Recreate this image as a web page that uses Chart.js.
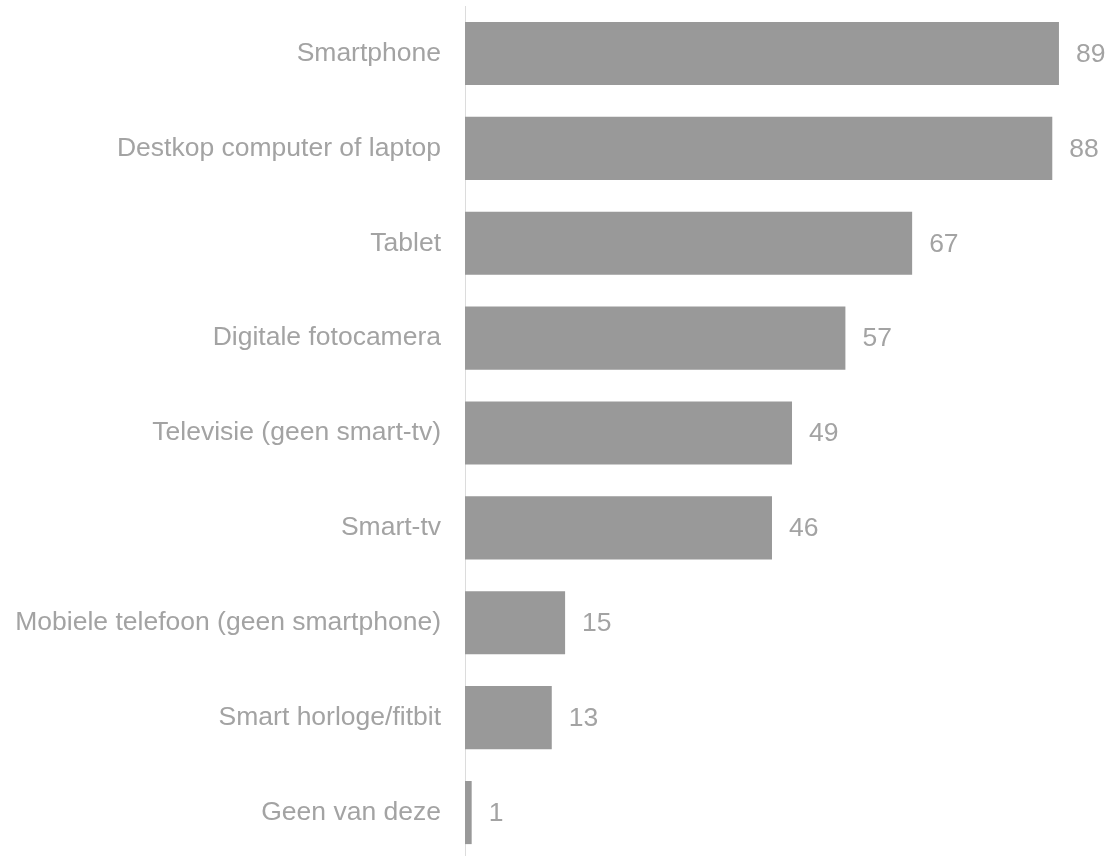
<!DOCTYPE html>
<html>
<head>
<meta charset="utf-8">
<script src="https://cdn.jsdelivr.net/npm/chart.js@4"></script>
<style>
  html, body { margin: 0; padding: 0; background: #fff; overflow: hidden; }
  #wrap { width: 1117px; height: 862px; position: relative; }
</style>
</head>
<body>
<div id="wrap"><canvas id="chart"></canvas></div>
<script>
// Apparaten (percentages)
const categories = [
    'Smartphone',
    'Destkop computer of laptop',
    'Tablet',
    'Digitale fotocamera',
    'Televisie (geen smart-tv)',
    'Smart-tv',
    'Mobiele telefoon (geen smartphone)',
    'Smart horloge/fitbit',
    'Geen van deze'
];
const values = [89, 88, 67, 57, 49, 46, 15, 13, 1];

const barColor = '#999999';
const textColor = '#a3a3a3';
const labelFont = '26.5px "Liberation Sans", Arial, sans-serif';

// value next to the end of each bar
const valueLabels = {
    id: 'valueLabels',
    afterDatasetsDraw: function(chart) {
        const ctx = chart.ctx;
        const meta = chart.getDatasetMeta(0);
        ctx.save();
        ctx.font = labelFont;
        ctx.fillStyle = textColor;
        ctx.textAlign = 'left';
        ctx.textBaseline = 'middle';
        meta.data.forEach((bar, i) => {
            ctx.fillText(String(values[i]), bar.x + 17, bar.y + 1);
        });
        ctx.restore();
    }
};

new Chart(document.getElementById('chart'), {
    type: 'bar',
    data: {
        labels: categories,
        datasets: [{
            data: values,
            backgroundColor: barColor,
            borderWidth: 0,
            barPercentage: 0.665,
            categoryPercentage: 1
        }]
    },
    options: {
        indexAxis: 'y',
        responsive: true,
        maintainAspectRatio: false,
        animation: false,
        layout: { padding: { top: 6, bottom: 2, left: 0, right: 18 } },
        scales: {
            x: { display: false, min: 0, max: 95 },
            y: {
                afterFit: (scale) => {
                    // fixed label column, no extra space above/below the bars
                    scale.width = 465;
                    scale.paddingTop = 0;
                    scale.paddingBottom = 0;
                },
                grid: { drawOnChartArea: false, drawTicks: false },
                border: { display: true, color: '#dcdcdc', width: 1 },
                ticks: {
                    padding: 24,
                    color: textColor,
                    font: { family: '"Liberation Sans", Arial, sans-serif', size: 26.5 }
                }
            }
        },
        plugins: {
            legend: { display: false },
            tooltip: { enabled: false }
        }
    },
    plugins: [valueLabels]
});
</script>
</body>
</html>
